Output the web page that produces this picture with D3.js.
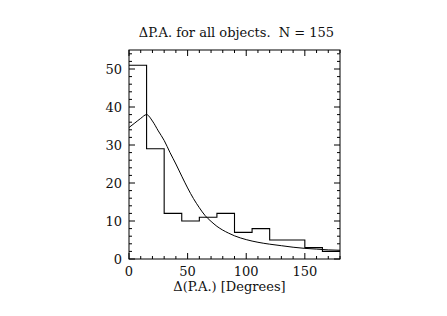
<!DOCTYPE html>
<html>
<head>
<meta charset="utf-8">
<script src="https://cdn.jsdelivr.net/npm/d3@7"></script>
<style>
  body { margin: 0; background: #fff; }
  svg { display: block; }
  text { font-family: "DejaVu Serif", serif; fill: #111; white-space: pre; }
</style>
</head>
<body>
<svg></svg>
<script>
const width = 447;
const height = 316;
const margin = { left: 129, right: 107, top: 50, bottom: 57 };

// histogram bins (15 degree wide), counts
const binEdges = [0, 15, 30, 45, 60, 75, 90, 105, 120, 135, 150, 165, 180];
const counts = [51, 29, 12, 10, 11, 12, 7, 8, 5, 5, 3, 2];

// model curve
const curveX = [0, 5, 10, 15, 20, 25, 30, 35, 40, 45, 50, 55, 60, 65, 70, 75, 80, 85, 90, 100, 110, 120, 130, 140, 150, 160, 170, 180];
const curveY = [34.6, 35.8, 37.0, 38.0, 36.3, 33.7, 31.2, 28.0, 25.0, 21.8, 18.7, 15.9, 13.5, 11.4, 9.9, 8.6, 7.6, 6.8, 6.1, 5.1, 4.4, 3.9, 3.5, 3.1, 2.8, 2.6, 2.4, 2.3];

const xTicks = [0, 50, 100, 150];
const yTicks = [0, 10, 20, 30, 40, 50];

const title = "\u0394P.A. for all objects.  N = 155";
const xLabel = "\u0394(P.A.) [Degrees]";

const svg = d3.select("svg").attr("width", width).attr("height", height);

const x = d3.scaleLinear().domain([0, 180]).range([margin.left, width - margin.right]);
const y = d3.scaleLinear().domain([0, 55]).range([height - margin.bottom, margin.top]);

// frame
svg.append("rect")
  .attr("x", x(0)).attr("y", y(55))
  .attr("width", x(180) - x(0)).attr("height", y(0) - y(55))
  .attr("fill", "none").attr("stroke", "#000").attr("stroke-width", 1);

// ticks on all four sides, pointing in
const xMinor = d3.range(0, 181, 10);
const yMinor = d3.range(0, 56, 2);
const major = 6, minor = 3;
const tickG = svg.append("g").attr("stroke", "#000").attr("stroke-width", 1);
xMinor.forEach(v => {
  const len = v % 50 === 0 ? major : minor;
  tickG.append("line").attr("x1", x(v)).attr("x2", x(v)).attr("y1", y(0)).attr("y2", y(0) - len);
  tickG.append("line").attr("x1", x(v)).attr("x2", x(v)).attr("y1", y(55)).attr("y2", y(55) + len);
});
yMinor.forEach(v => {
  const len = v % 10 === 0 ? major : minor;
  tickG.append("line").attr("x1", x(0)).attr("x2", x(0) + len).attr("y1", y(v)).attr("y2", y(v));
  tickG.append("line").attr("x1", x(180)).attr("x2", x(180) - len).attr("y1", y(v)).attr("y2", y(v));
});

// tick labels
svg.append("g").selectAll("text").data(xTicks).join("text")
  .attr("x", d => x(d)).attr("y", y(0) + 17)
  .attr("text-anchor", "middle").style("font-size", "13px")
  .text(d => d);
svg.append("g").selectAll("text").data(yTicks).join("text")
  .attr("x", x(0) - 7).attr("y", d => y(d) + 5)
  .attr("text-anchor", "end").style("font-size", "13px")
  .text(d => d);

// histogram as a step line
const steps = [];
counts.forEach((c, i) => {
  steps.push([binEdges[i], c]);
  steps.push([binEdges[i + 1], c]);
});
svg.append("path")
  .datum(steps)
  .attr("fill", "none").attr("stroke", "#000").attr("stroke-width", 1.1)
  .attr("d", d3.line().x(d => x(d[0])).y(d => y(d[1])));

// smooth curve
const curvePts = curveX.map((v, i) => [v, curveY[i]]);
svg.append("path")
  .datum(curvePts)
  .attr("fill", "none").attr("stroke", "#000").attr("stroke-width", 1)
  .attr("d", d3.line().x(d => x(d[0])).y(d => y(d[1])).curve(d3.curveMonotoneX));

// title and axis label
svg.append("text")
  .attr("x", (x(0) + x(180)) / 2 + 2).attr("y", 37)
  .attr("text-anchor", "middle").style("font-size", "13px")
  .text(title);
svg.append("text")
  .attr("x", (x(0) + x(180)) / 2 - 5).attr("y", 291)
  .attr("text-anchor", "middle").style("font-size", "13px")
  .text(xLabel);
</script>
</body>
</html>
